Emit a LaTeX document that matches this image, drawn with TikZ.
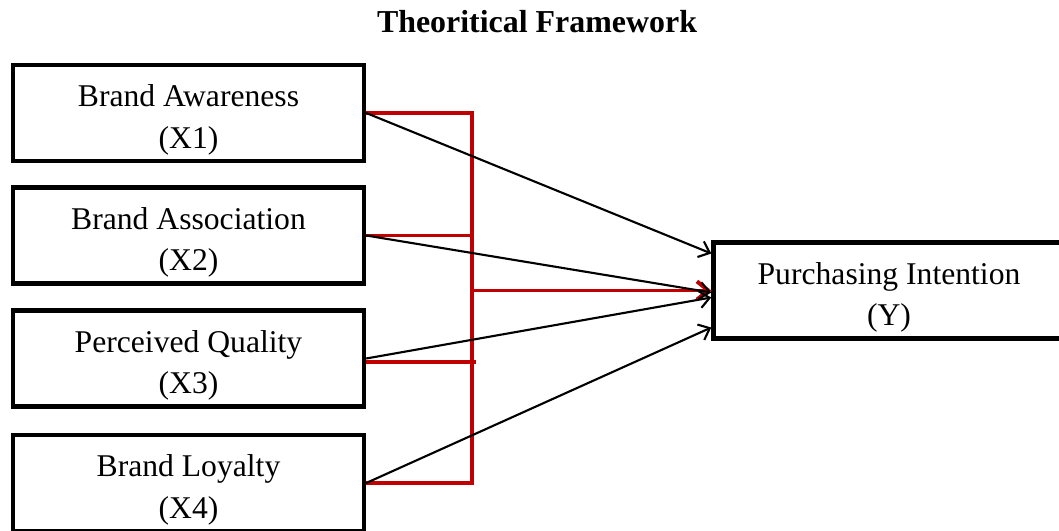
\documentclass[tikz,border=0pt]{standalone}
\usepackage{fontspec}
\setmainfont{Liberation Serif}
\usetikzlibrary{arrows.meta,positioning}
\definecolor{wordred}{RGB}{192,0,0}

\begin{document}
\begin{tikzpicture}[
    x=0.025cm, y=-0.025cm,
    var/.style={draw, line width=3.1pt, minimum width=8.775cm, minimum height=2.4cm, align=center, inner sep=0pt, text height=50pt, text depth=0pt, font=\fontsize{22.5}{29.5}\selectfont},
    ttl/.style={font=\fontsize{22.7}{27}\selectfont\bfseries},
    arr/.style={-{Straight Barb[length=7pt,width=12pt]}, line width=1.5pt},
    bus/.style={draw=wordred, line width=2.5pt},
    rarr/.style={-{Straight Barb[length=8pt,width=13pt]}, draw=wordred, line width=2.8pt}
]
\useasboundingbox (0,0) rectangle (1059,531);
\node[ttl] (T) at (537,22) {Theoritical Framework};
\node[var] (X1) at (188.5,113) {Brand Awareness\\(X1)};
\node[var] (X2) at (188.5,235.5) {Brand Association\\(X2)};
\node[var] (X3) at (188.5,358.5) {Perceived Quality\\(X3)};
\node[var] (X4) at (188.5,483) {Brand Loyalty\\(X4)};
\node[var] (Y) at (889,290.5) {Purchasing Intention\\(Y)};
\coordinate (Bx) at (472,0);

% red joint links
\draw[bus] (X1.east) -| (Bx |- X4.east) -- (X4.east);
\draw[bus] (X2.east) -- (X2.east -| Bx);
\draw[bus] ([yshift=-0.09cm]X3.east) -- ([xshift=0.1cm,yshift=-0.09cm]X3.east -| Bx);
\draw[rarr] (Bx |- Y.west) -- (Y.west);

% single links
\draw[arr] (X1.east) -- ([yshift=0.925cm]Y.west);
\draw[arr] (X2.east) -- ([yshift=-0.05cm]Y.west);
\draw[arr] (X3.east) -- ([yshift=-0.175cm]Y.west);
\draw[arr] (X4.east) -- ([yshift=-0.925cm]Y.west);
\end{tikzpicture}
\end{document}
